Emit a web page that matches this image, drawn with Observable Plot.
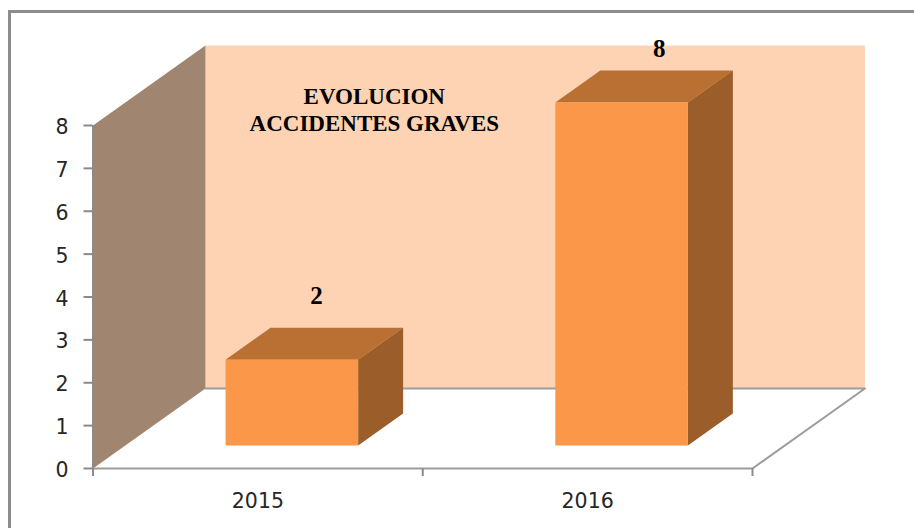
<!DOCTYPE html>
<html>
<head>
<meta charset="utf-8">
<script src="https://cdn.jsdelivr.net/npm/d3@7"></script>
<script src="https://cdn.jsdelivr.net/npm/@observablehq/plot@0.6"></script>
<style>
  html, body { margin: 0; padding: 0; background: #fff; overflow: hidden; }
  #chart { position: relative; width: 914px; height: 528px; }
  #frame { position: absolute; left: 8px; top: 10px; right: 0; bottom: 0; border-top: 3px solid #8c8c8c; border-left: 3px solid #8c8c8c; }
  #chart svg { position: absolute; left: 0; top: 0; background: transparent; }
</style>
</head>
<body>
<div id="chart"><div id="frame"></div></div>
<script>
// Data
const categories = ["2015", "2016"];
const values = [2, 8];
const yTicks = [0, 1, 2, 3, 4, 5, 6, 7, 8];
const titleText = "EVOLUCION\nACCIDENTES GRAVES";

// Oblique depth of the chart box, in axis units
const depthX = 0.341, depthY = 1.866, yMax = 8, slots = categories.length;
const barWidth = 0.402, barCentre = 0.505, barFront = 0.2875, barBack = 0.6875;
// Hand-placed data labels, offsets from the slot centre and value
const labelOffsetX = [0.178, 0.217];
const labelOffsetY = [2.03, 1.79];

const colors = {
  backWall: "#fdd3b4", sideWall: "#a08571",
  front: "#fa9748", top: "#ba7033", side: "#9b5e2a",
  floor: "#9c9c9c", axis: "#8a8a8a", text: "#262626"
};

const pt = (c, v, d) => ({x: c + d * depthX, y: v + d * depthY});
const face = (pts, fill) => Plot.line(pts, {x: "x", y: "y", fill, stroke: "none", curve: "linear"});

const walls = [
  face([pt(0, yMax, 1), pt(slots, yMax, 1), pt(slots, 0, 1), pt(0, 0, 1)], colors.backWall),
  face([pt(0, 0, 0), pt(0, yMax, 0), pt(0, yMax, 1), pt(0, 0, 1)], colors.sideWall)
];
const floor = Plot.line([pt(0, 0, 1), pt(slots, 0, 1), pt(slots, 0, 0), pt(0, 0, 0)],
  {x: "x", y: "y", stroke: colors.floor, strokeWidth: 2, curve: "linear"});

const bars = values.flatMap((v, i) => {
  const l = i + barCentre - barWidth / 2, r = i + barCentre + barWidth / 2;
  return [
    face([pt(l, v, barFront), pt(r, v, barFront), pt(r, v, barBack), pt(l, v, barBack)], colors.top),
    face([pt(r, 0, barFront), pt(r, v, barFront), pt(r, v, barBack), pt(r, 0, barBack)], colors.side),
    face([pt(l, 0, barFront), pt(r, 0, barFront), pt(r, v, barFront), pt(l, v, barFront)], colors.front)
  ];
});

const plot = Plot.plot({
  width: 914,
  height: 528,
  marginLeft: 92.5,
  marginRight: 162,
  marginTop: 125,
  marginBottom: 60,
  x: {domain: [0, slots]},
  y: {domain: [0, yMax]},
  style: {background: "transparent"},
  marks: [
    ...walls,
    floor,
    ...bars,
    Plot.ruleX([0], {y1: 0, y2: yMax, stroke: colors.axis, strokeWidth: 2}),
    Plot.axisY({
      ticks: yTicks, tickSize: 9, tickFormat: () => "", label: null,
      stroke: colors.axis, strokeWidth: 2
    }),
    Plot.axisY({
      ticks: yTicks, tickSize: 0, tickPadding: 24.5, label: null, dy: 2,
      tickFormat: d => String(d),
      fill: colors.text, fontSize: 20.5, fontFamily: "DejaVu Sans"
    }),
    Plot.axisX({
      ticks: d3.range(slots + 1), tickSize: 8, tickFormat: () => "", label: null,
      stroke: colors.axis, strokeWidth: 2
    }),
    Plot.axisX({
      ticks: categories.map((_, i) => i + 0.5), tickSize: 0, tickPadding: 25, label: null,
      tickFormat: d => categories[Math.floor(d)],
      fill: colors.text, fontSize: 20.5, fontFamily: "DejaVu Sans"
    }),
    Plot.text(values, {
      x: (_, i) => i + 0.5 + labelOffsetX[i],
      y: (v, i) => v + labelOffsetY[i],
      text: d => String(d),
      fill: "#000", fontSize: 25, fontWeight: "bold", fontFamily: "Liberation Serif"
    }),
    Plot.text([titleText], {
      x: [0.853], y: [8.39],
      fill: "#000", fontSize: 23, fontWeight: "bold", fontFamily: "Liberation Serif",
      lineHeight: 1.17
    })
  ]
});
document.getElementById("chart").appendChild(plot);
</script>
</body>
</html>
